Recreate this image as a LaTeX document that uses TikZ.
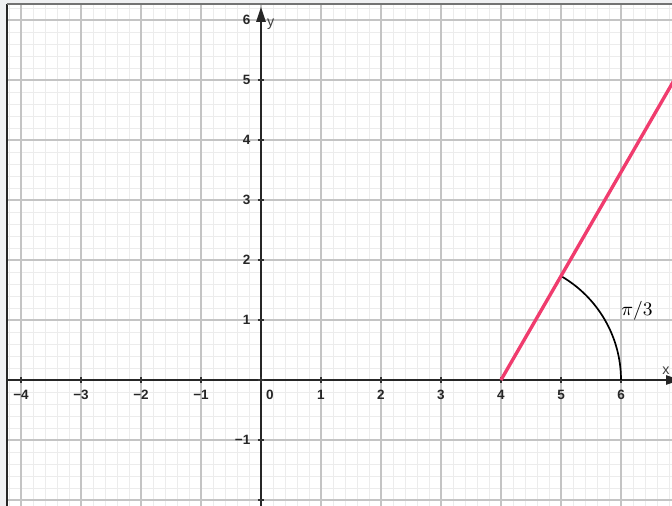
\documentclass[tikz,border=0pt]{standalone}
\usepackage{fontspec}
\newfontfamily\labfont{Liberation Sans}
\usetikzlibrary{arrows.meta,calc}
\definecolor{margin}{HTML}{EFF0F2}
\definecolor{minorgrid}{HTML}{ECECEC}
\definecolor{majorgrid}{HTML}{C4C4C4}
\definecolor{rayred}{HTML}{F03C6E}
\tikzset{
  ticklab/.style={font=\labfont\bfseries\fontsize{6.4}{7}\selectfont, text=black!85, inner sep=0pt},
  axlab/.style={font=\labfont\fontsize{6.8}{8}\selectfont, text=black!75, inner sep=0pt},
  axisline/.style={line width=1.2pt, draw=black!85},
}
\begin{document}
\begin{tikzpicture}[x=1cm,y=1cm]
\useasboundingbox (-4.35,-2.1) rectangle (6.85,6.3333);
\fill[margin] (-4.35,-2.1) rectangle (6.85,6.3333);
\fill[white] (-4.233,-2.1) rectangle (6.85,6.267);
\begin{scope}
\clip (-4.233,-2.1) rectangle (6.85,6.267);
\draw[minorgrid, line width=0.45pt] (-4.4,-2.2) grid[step=0.2] (7,6.4);
\draw[majorgrid, line width=0.7pt] (-5,-3) grid[step=1] (7,7);
% axes
\coordinate (xs) at (-4.4,0);
\coordinate (xe) at (7.0,0);
\coordinate (ys) at (0,-2.2);
\coordinate (ye) at (0,6.22);
\draw[axisline, -{Triangle[length=0.25cm,width=0.15cm]}] (xs) -- (xe);
\draw[axisline, -{Triangle[length=0.25cm,width=0.15cm]}] (ys) -- (ye);
\foreach \i in {-4,...,6} { \draw[black!80, line width=0.6pt] (\i,-0.05) -- (\i,0.05); }
\foreach \j in {-2,...,5} { \draw[black!80, line width=0.6pt] (-0.05,\j) -- (0.05,\j); }
% ray and arc
\coordinate (A) at (4,0);
\coordinate (B) at ($(A)+(60:6)$);
\draw[black, line width=0.8pt] (6,0) arc[start angle=0, end angle=60, radius=2];
\draw[rayred, line width=1.6pt] (A) -- (B);
\end{scope}
\draw[black!85, line width=0.8pt] (-4.233,-2.1) -- (-4.233,6.267);
\draw[black!55, line width=0.8pt] (-4.233,6.267) -- (6.85,6.267);
% tick labels
\foreach \i/\t in {-4/−4,-3/−3,-2/−2,-1/−1,1/1,2/2,3/3,4/4,5/5,6/6}
  { \node[ticklab] (xl\i) at (\i,-0.245) {\t}; }
\node[ticklab] (xl0) at (0.15,-0.245) {0};
\foreach \j in {1,...,6} { \node[ticklab, anchor=east] (yl\j) at (-0.17,\j) {\j}; }
\node[ticklab, anchor=east] (ylm1) at (-0.17,-1) {−1};
\node[axlab] (xname) at (6.75,0.15) {x};
\node[axlab] (yname) at (0.16,5.93) {y};
\node[inner sep=0pt, font=\fontsize{9}{11}\selectfont] (ang) at (6.267,1.15) {$\pi/3$};
\end{tikzpicture}
\end{document}
